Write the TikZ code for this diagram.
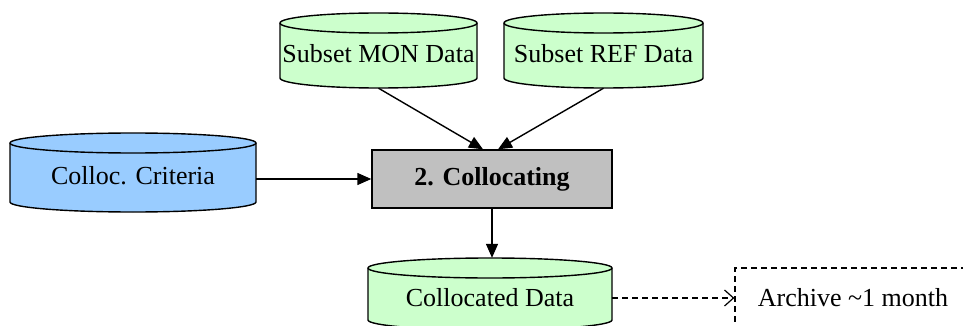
\documentclass[tikz,border=0pt]{standalone}
\usepackage{fontspec}
\setmainfont{Liberation Serif}
\usetikzlibrary{arrows.meta}
\definecolor{dbgreen}{HTML}{CCFFCC}
\definecolor{dbblue}{HTML}{99CCFF}
\definecolor{procgray}{HTML}{C0C0C0}
\tikzset{
  cylline/.style={line width=1.4pt, draw=black},
  cyltext/.style={font=\fontsize{26}{28}\selectfont, inner sep=0pt, text height=30pt, text depth=6pt},
  procbox/.style={draw=black, line width=1.4pt, fill=procgray, font=\fontsize{26}{28}\selectfont\bfseries, minimum width=240pt, minimum height=58pt, inner sep=0pt},
  archbox/.style={draw=black, line width=1.2pt, dash pattern=on 6pt off 4pt, font=\fontsize{26}{28}\selectfont, minimum width=236pt, minimum height=60pt, inner sep=0pt},
  flow/.style={line width=1.4pt, -{Triangle[length=14pt,width=12pt]}},
  dflow/.style={line width=1.2pt, dash pattern=on 6pt off 4pt, -{Straight Barb[length=9pt,width=16pt,line width=1.2pt]}}
}
\newcommand\mycyl[7]{%
  \pgfmathsetmacro\cx{(#2+#3)/2}%
  \pgfmathsetmacro\rx{(#3-#2)/2}%
  \pgfmathsetmacro\cy{-(#4+#5)/2}%
  \pgfmathsetmacro\hh{#5-#4}%
  \pgfmathsetmacro\ww{#3-#2}%
  \filldraw[cylline, fill=#6] (#2,-#4-10) -- (#2,-#5+10)
     arc[start angle=180, end angle=360, x radius=\rx pt, y radius=10pt]
     -- (#3,-#4-10)
     arc[start angle=0, end angle=180, x radius=\rx pt, y radius=10pt] -- cycle;
  \draw[cylline] (#2,-#4-10) arc[start angle=180, end angle=360, x radius=\rx pt, y radius=10pt];
  \node[cyltext, minimum width=\ww pt, minimum height=\hh pt] (#1) at (\cx,\cy) {#7};
}
\begin{document}
\begin{tikzpicture}[x=1pt,y=1pt]
\useasboundingbox (0,0) rectangle (963,-326);
\mycyl{mon}{280}{477}{13}{88}{dbgreen}{Subset MON Data}
\mycyl{ref}{504}{703}{13}{88}{dbgreen}{Subset REF Data}
\mycyl{crit}{10}{256}{133}{212}{dbblue}{Colloc. Criteria}
\mycyl{coll}{368}{612}{258}{330}{dbgreen}{Collocated Data}
\node[procbox] (box) at (492,-179) {2. Collocating};
\node[archbox] (arch) at (853,-298) {Archive \textasciitilde1 month};
\draw[flow] (mon.south) -- ([xshift=-9pt]box.north);
\draw[flow] (ref.south) -- ([xshift=6pt]box.north);
\draw[flow] (crit.east |- box.west) -- (box.west);
\draw[flow] (box.south) -- (box.south |- coll.north);
\draw[dflow] (coll.east |- arch.west) -- (arch.west);
\end{tikzpicture}
\end{document}
